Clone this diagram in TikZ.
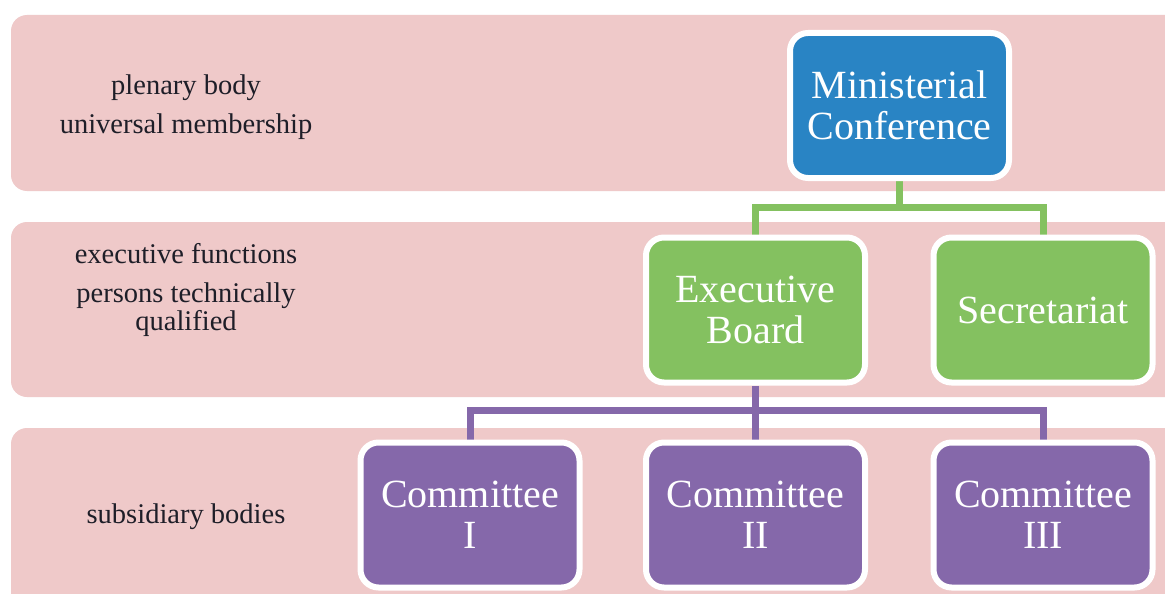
\documentclass[tikz,border=0pt]{standalone}
\usepackage{fontspec}
\setmainfont{Liberation Serif}
\usetikzlibrary{backgrounds}
\definecolor{bandpink}{RGB}{239,201,201}
\definecolor{mcblue}{RGB}{41,132,196}
\definecolor{ebgreen}{RGB}{132,193,96}
\definecolor{compurple}{RGB}{133,104,170}
\definecolor{txt}{RGB}{30,30,40}
\tikzset{
  band/.style={fill=bandpink, draw=none, rounded corners=16pt},
  orgbox/.style={draw=white, line width=6pt, rounded corners=18pt,
    minimum width=219pt, minimum height=145pt, inner sep=0pt,
    align=center, text=white,
    font=\fontsize{40}{41}\selectfont},
  bluebox/.style={orgbox, fill=mcblue},
  greenbox/.style={orgbox, fill=ebgreen},
  purplebox/.style={orgbox, fill=compurple},
  lbl/.style={anchor=base, text=txt, inner sep=0pt, align=center,
    font=\fontsize{28.5}{28}\selectfont},
  gline/.style={draw=ebgreen, line width=7pt},
  pline/.style={draw=compurple, line width=7pt}
}
\begin{document}
\begin{tikzpicture}[x=1pt,y=-1pt]
\clip (0,0) rectangle (1165,594);

% nodes
\node[bluebox] (mc) at (899.5,105.5) {Ministerial\\Conference};
\node[greenbox] (eb) at (755.5,310) {Executive\\Board};
\node[greenbox] (sec) at (1043,310) {Secretariat};
\node[purplebox] (c1) at (470,515) {Committee\\I};
\node[purplebox] (c2) at (755.5,515) {Committee\\II};
\node[purplebox] (c3) at (1043,515) {Committee\\III};

% left labels
\node[lbl] (l1) at (186,95) {plenary body};
\node[lbl] (l2) at (186,133) {universal membership};
\node[lbl] (l3) at (186,263) {executive functions};
\node[lbl] (l4) at (186,330) {persons technically\\qualified};
\node[lbl] (l5) at (186,523) {subsidiary bodies};

\begin{pgfonlayer}{background}
  \fill[white] (0,0) rectangle (1165,594);
  \fill[band] (11,15) rectangle (1200,191);
  \fill[band] (11,222) rectangle (1200,397);
  \fill[band] (11,428) rectangle (1200,640);
  \coordinate (gj) at (mc.south |- 0,207);
  \coordinate (pj) at (eb.south |- 0,410);
  \draw[gline] (mc.south) -- (gj);
  \draw[gline] (gj) -| (eb.north);
  \draw[gline] (gj) -| (sec.north);
  \draw[pline] (eb.south) -- (pj);
  \draw[pline] (pj) -| (c1.north);
  \draw[pline] (pj) -- (c2.north);
  \draw[pline] (pj) -| (c3.north);
\end{pgfonlayer}
\end{tikzpicture}
\end{document}
